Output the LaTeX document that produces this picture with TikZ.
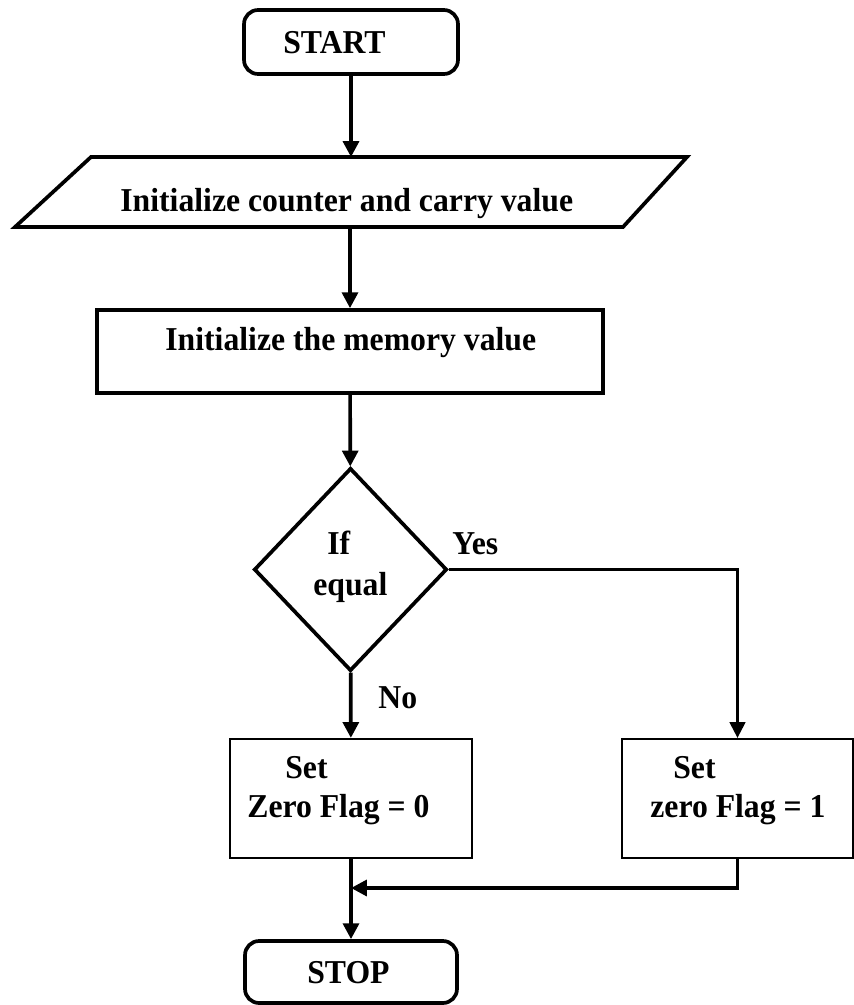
\documentclass[tikz,border=0pt]{standalone}
\usepackage{fontspec}
\setmainfont{Liberation Serif}[FakeStretch=0.95]
\usetikzlibrary{shapes.geometric, arrows.meta}
\tikzset{flow/.style={line width=2.1pt, -{Triangle[width=9pt, length=9pt]}}}
\tikzset{thinflow/.style={line width=1.3pt, -{Triangle[width=9pt, length=9pt]}}}
\tikzset{txt/.style={inner sep=0pt, anchor=base west, font=\fontsize{19}{22}\selectfont\bfseries}}

\begin{document}
\begin{tikzpicture}[x=0.02cm, y=-0.02cm]%{{{
        \useasboundingbox (0, 0) rectangle (853, 1005);

        \node[draw, rounded corners=8pt, line width=2.1pt, minimum width=4.28cm, minimum height=1.28cm] (Na) at (351, 42) {};
        \coordinate (Nb1) at (91, 157);
        \coordinate (Nb2) at (687, 157);
        \coordinate (Nb3) at (623, 227);
        \coordinate (Nb4) at (15, 227);
        \draw [line width=2.1pt] (Nb1) -- (Nb2) -- (Nb3) -- (Nb4) -- cycle;
        \node[draw, line width=2.1pt, minimum width=10.12cm, minimum height=1.66cm] (Nc) at (350, 351.5) {};
        \node[draw, diamond, line width=2.1pt, inner sep=0pt, minimum width=3.86cm, minimum height=4.06cm] (Nd) at (350.5, 569.5) {};
        \node[draw, line width=1.3pt, minimum width=4.84cm, minimum height=2.38cm] (Ne) at (351, 798.5) {};
        \node[draw, line width=1.3pt, minimum width=4.62cm, minimum height=2.38cm] (Nf) at (737.5, 798.5) {};
        \node[draw, rounded corners=8pt, line width=2.1pt, minimum width=4.24cm, minimum height=1.24cm] (Ng) at (351, 972) {};
        \coordinate (Nm) at (351, 888);

        % texts
        \node[txt] (Ta) at (283, 53) {START};
        \node[txt] (Tb) at (120, 211) {Initialize counter and carry value};
        \node[txt] (Tc) at (165, 350) {Initialize the memory value};
        \node[txt] (Td1) at (327, 554) {If};
        \node[txt] (Td2) at (313, 595) {equal};
        \node[txt] (Ty) at (452, 554) {Yes};
        \node[txt] (Tn) at (378, 708) {No};
        \node[txt] (Te1) at (285, 778) {Set};
        \node[txt] (Te2) at (247, 817) {Zero Flag = 0};
        \node[txt] (Tf1) at (673, 778) {Set};
        \node[txt] (Tf2) at (650, 817) {zero Flag = 1};
        \node[txt] (Tg) at (307, 983) {STOP};

        \draw [flow] (Na) -- (Na |- Nb1);
        \draw [flow] (Nc |- Nb4) -- (Nc);
        \draw [flow] (Nc) -- (Nd);
        \draw [thinflow] (Nd.east) -| (Nf);
        \draw [flow] (Nd) -- (Ne);
        \draw [flow] (Ne) -- (Ng);
        \draw [flow] (Nf) |- (Nm);
    \end{tikzpicture}
\end{document}
